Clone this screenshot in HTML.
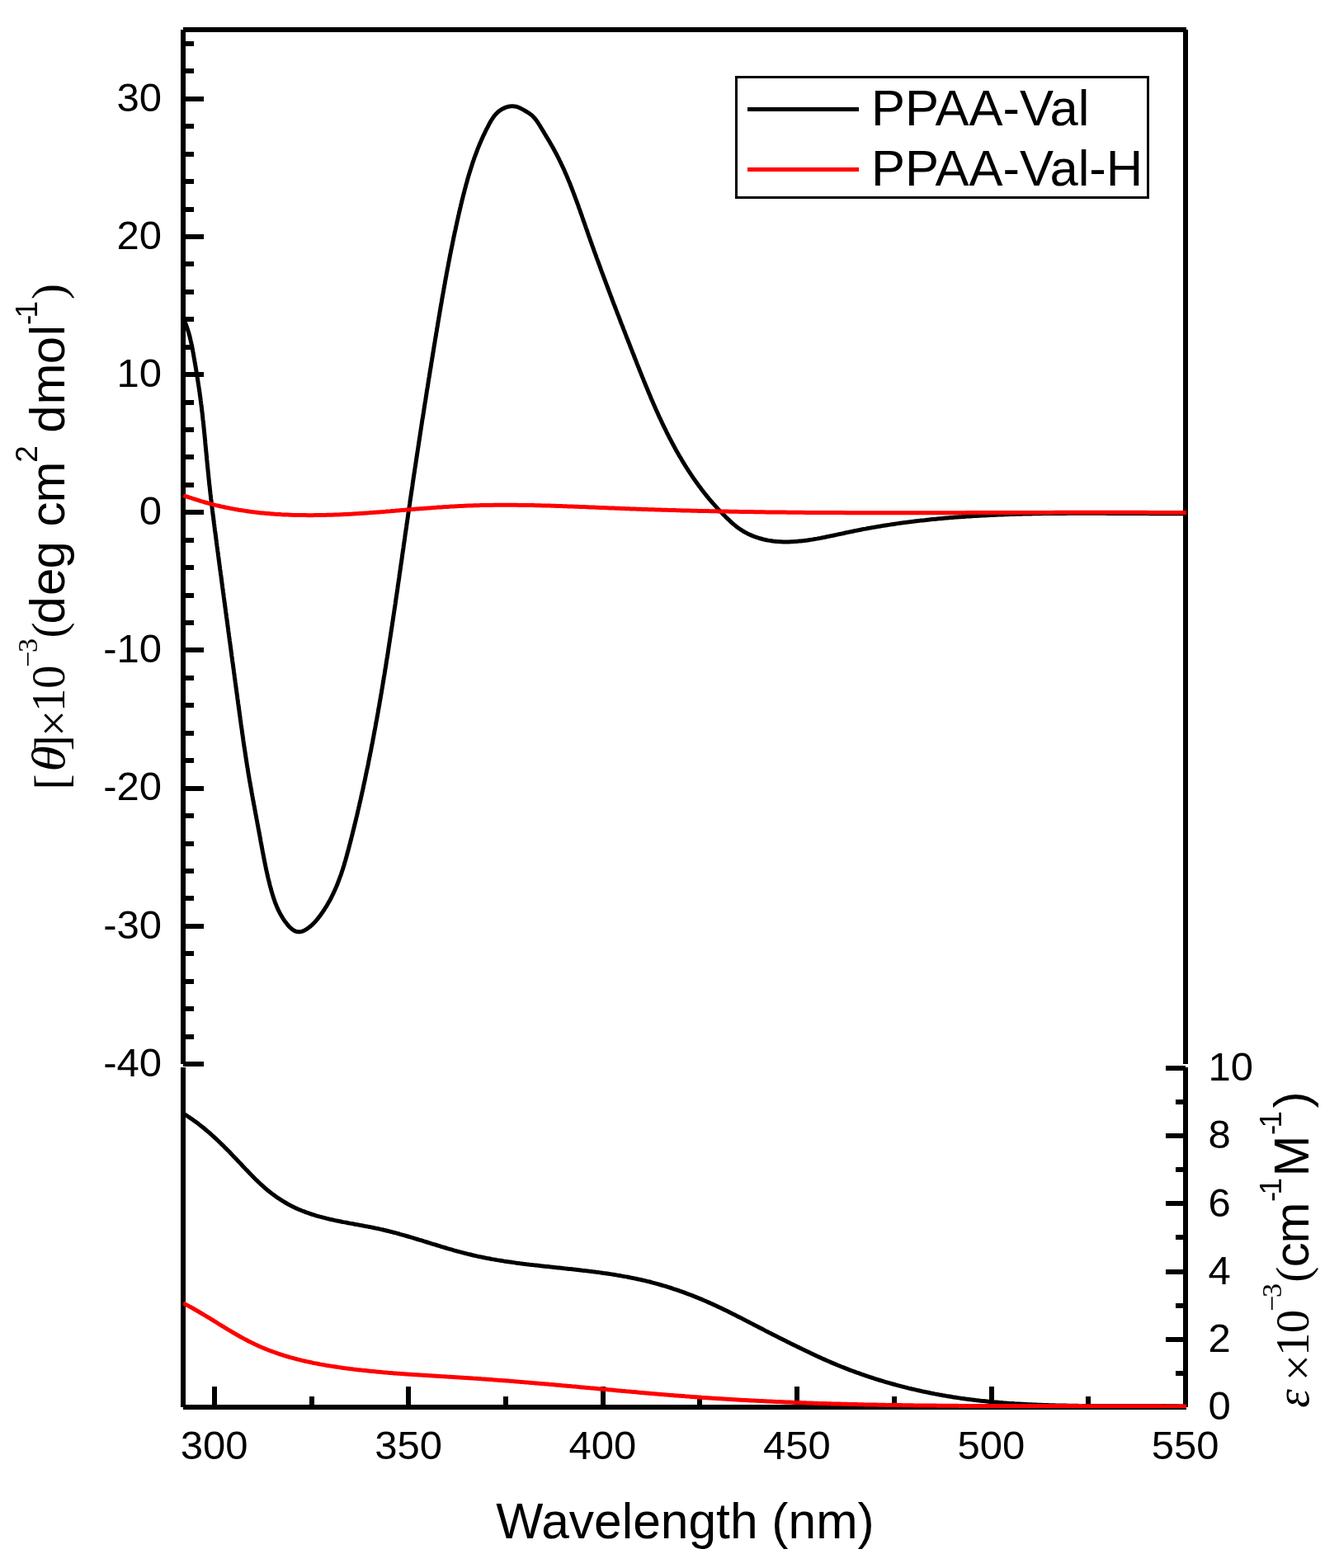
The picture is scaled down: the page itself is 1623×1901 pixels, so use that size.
<!DOCTYPE html>
<html><head><meta charset="utf-8"><title>CD and absorption spectra</title>
<style>html,body{margin:0;padding:0;background:#fff;}svg{display:block;}.s{font-family:"Liberation Sans",Arial,sans-serif;}.r{font-family:"Liberation Serif","Times New Roman",serif;}</style></head><body>
<svg width="1623" height="1901" viewBox="0 0 1623 1901">
<rect x="0" y="0" width="1623" height="1901" fill="#fff"/>
<g fill="#000" shape-rendering="crispEdges"><rect x="222" y="33" width="1216" height="6"/><rect x="219" y="36" width="6" height="1254"/><rect x="1434" y="36" width="6" height="1254"/><rect x="219" y="1294" width="6" height="412"/><rect x="1434" y="1294" width="6" height="412"/><rect x="222" y="1703" width="1216" height="6"/><rect x="222" y="50" width="13" height="6"/><rect x="222" y="83" width="13" height="6"/><rect x="222" y="117" width="25" height="6"/><rect x="222" y="150" width="13" height="6"/><rect x="222" y="184" width="13" height="6"/><rect x="222" y="217" width="13" height="6"/><rect x="222" y="251" width="13" height="6"/><rect x="222" y="284" width="25" height="6"/><rect x="222" y="317" width="13" height="6"/><rect x="222" y="351" width="13" height="6"/><rect x="222" y="384" width="13" height="6"/><rect x="222" y="418" width="13" height="6"/><rect x="222" y="451" width="25" height="6"/><rect x="222" y="485" width="13" height="6"/><rect x="222" y="518" width="13" height="6"/><rect x="222" y="551" width="13" height="6"/><rect x="222" y="585" width="13" height="6"/><rect x="222" y="618" width="25" height="6"/><rect x="222" y="652" width="13" height="6"/><rect x="222" y="685" width="13" height="6"/><rect x="222" y="719" width="13" height="6"/><rect x="222" y="752" width="13" height="6"/><rect x="222" y="785" width="25" height="6"/><rect x="222" y="819" width="13" height="6"/><rect x="222" y="852" width="13" height="6"/><rect x="222" y="886" width="13" height="6"/><rect x="222" y="919" width="13" height="6"/><rect x="222" y="953" width="25" height="6"/><rect x="222" y="986" width="13" height="6"/><rect x="222" y="1020" width="13" height="6"/><rect x="222" y="1053" width="13" height="6"/><rect x="222" y="1086" width="13" height="6"/><rect x="222" y="1120" width="25" height="6"/><rect x="222" y="1153" width="13" height="6"/><rect x="222" y="1187" width="13" height="6"/><rect x="222" y="1220" width="13" height="6"/><rect x="222" y="1254" width="13" height="6"/><rect x="222" y="1287" width="25" height="6"/><rect x="1413" y="1703" width="24" height="6"/><rect x="1425" y="1662" width="12" height="6"/><rect x="1413" y="1621" width="24" height="6"/><rect x="1425" y="1580" width="12" height="6"/><rect x="1413" y="1539" width="24" height="6"/><rect x="1425" y="1497" width="12" height="6"/><rect x="1413" y="1456" width="24" height="6"/><rect x="1425" y="1415" width="12" height="6"/><rect x="1413" y="1374" width="24" height="6"/><rect x="1425" y="1333" width="12" height="6"/><rect x="1413" y="1292" width="24" height="6"/><rect x="257" y="1681" width="6" height="25"/><rect x="375" y="1693" width="6" height="13"/><rect x="492" y="1681" width="6" height="25"/><rect x="610" y="1693" width="6" height="13"/><rect x="728" y="1681" width="6" height="25"/><rect x="845" y="1693" width="6" height="13"/><rect x="963" y="1681" width="6" height="25"/><rect x="1081" y="1693" width="6" height="13"/><rect x="1199" y="1681" width="6" height="25"/><rect x="1316" y="1693" width="6" height="13"/><rect x="1434" y="1681" width="6" height="25"/></g>
<defs><clipPath id="ct"><rect x="222" y="36" width="1216.5" height="1254"/></clipPath><clipPath id="cb"><rect x="222" y="1294" width="1216.5" height="413"/></clipPath></defs>
<g fill="none" stroke-linejoin="round" stroke-linecap="butt" stroke-width="5">
<g clip-path="url(#cb)">
<path d="M221.9,1349.8 L223.6,1350.8 L225.3,1351.9 L227.0,1353.0 L228.7,1354.2 L230.4,1355.3 L232.1,1356.4 L233.7,1357.6 L235.3,1358.8 L237.0,1359.9 L238.6,1361.1 L240.2,1362.3 L241.8,1363.6 L243.3,1364.8 L244.9,1366.0 L246.5,1367.3 L248.0,1368.5 L249.5,1369.8 L251.1,1371.1 L252.6,1372.4 L254.1,1373.7 L255.6,1375.0 L257.0,1376.3 L258.5,1377.6 L260.0,1379.0 L261.5,1380.3 L262.9,1381.7 L264.3,1383.0 L265.8,1384.4 L267.2,1385.8 L268.6,1387.2 L270.1,1388.6 L271.5,1390.0 L272.9,1391.4 L274.3,1392.8 L275.7,1394.2 L277.1,1395.6 L278.5,1397.0 L279.9,1398.5 L281.2,1399.9 L282.6,1401.4 L284.0,1402.8 L285.4,1404.2 L286.8,1405.7 L288.1,1407.2 L289.5,1408.6 L290.9,1410.1 L292.3,1411.5 L293.6,1413.0 L295.0,1414.5 L296.4,1415.9 L297.8,1417.4 L299.2,1418.8 L300.6,1420.3 L302.0,1421.8 L303.4,1423.2 L304.8,1424.6 L306.2,1426.1 L307.6,1427.5 L309.0,1428.9 L310.4,1430.3 L311.9,1431.7 L313.3,1433.1 L314.8,1434.5 L316.3,1435.9 L317.7,1437.2 L319.2,1438.5 L320.7,1439.9 L322.3,1441.2 L323.8,1442.5 L325.3,1443.7 L326.9,1445.0 L328.5,1446.2 L330.0,1447.4 L331.6,1448.6 L333.3,1449.8 L334.9,1451.0 L336.5,1452.1 L338.2,1453.2 L339.9,1454.3 L341.6,1455.4 L343.2,1456.4 L345.0,1457.5 L346.7,1458.5 L348.4,1459.5 L350.2,1460.4 L351.9,1461.4 L353.7,1462.3 L355.5,1463.2 L357.2,1464.0 L359.0,1464.9 L360.8,1465.7 L362.7,1466.5 L364.5,1467.2 L366.3,1468.0 L368.2,1468.7 L370.0,1469.4 L371.9,1470.1 L373.7,1470.7 L375.6,1471.4 L377.5,1472.0 L379.3,1472.6 L381.2,1473.2 L383.1,1473.8 L385.0,1474.3 L386.9,1474.9 L388.9,1475.4 L390.8,1475.9 L392.7,1476.4 L394.6,1476.9 L396.6,1477.4 L398.5,1477.8 L400.4,1478.3 L402.4,1478.7 L404.3,1479.1 L406.3,1479.6 L408.3,1480.0 L410.2,1480.4 L412.2,1480.8 L414.2,1481.2 L416.1,1481.6 L418.1,1481.9 L420.1,1482.3 L422.0,1482.7 L424.0,1483.1 L426.0,1483.4 L428.0,1483.8 L430.0,1484.2 L431.9,1484.5 L433.9,1484.9 L435.9,1485.3 L437.9,1485.6 L439.9,1486.0 L441.8,1486.4 L443.8,1486.7 L445.8,1487.1 L447.8,1487.5 L449.8,1487.9 L451.7,1488.3 L453.7,1488.7 L455.7,1489.1 L457.6,1489.5 L459.6,1489.9 L461.6,1490.4 L463.5,1490.8 L465.5,1491.3 L467.4,1491.7 L469.4,1492.2 L471.3,1492.7 L473.3,1493.2 L475.2,1493.7 L477.2,1494.2 L479.1,1494.7 L481.0,1495.2 L483.0,1495.7 L484.9,1496.3 L486.8,1496.8 L488.8,1497.4 L490.7,1497.9 L492.6,1498.5 L494.5,1499.0 L496.5,1499.6 L498.4,1500.2 L500.3,1500.7 L502.2,1501.3 L504.1,1501.9 L506.0,1502.5 L508.0,1503.1 L509.9,1503.6 L511.8,1504.2 L513.7,1504.8 L515.6,1505.4 L517.5,1506.0 L519.4,1506.6 L521.3,1507.2 L523.2,1507.8 L525.1,1508.4 L527.1,1508.9 L529.0,1509.5 L530.9,1510.1 L532.8,1510.7 L534.7,1511.3 L536.6,1511.8 L538.5,1512.4 L540.4,1513.0 L542.3,1513.6 L544.2,1514.1 L546.2,1514.7 L548.1,1515.2 L550.0,1515.8 L551.9,1516.3 L553.8,1516.8 L555.7,1517.4 L557.7,1517.9 L559.6,1518.4 L561.5,1518.9 L563.4,1519.4 L565.4,1519.9 L567.3,1520.4 L569.2,1520.8 L571.2,1521.3 L573.1,1521.8 L575.0,1522.2 L577.0,1522.6 L578.9,1523.1 L580.9,1523.5 L582.8,1523.9 L584.8,1524.3 L586.7,1524.7 L588.7,1525.1 L590.6,1525.5 L592.6,1525.8 L594.6,1526.2 L596.5,1526.6 L598.5,1526.9 L600.4,1527.2 L602.4,1527.6 L604.4,1527.9 L606.3,1528.2 L608.3,1528.5 L610.3,1528.9 L612.3,1529.2 L614.2,1529.5 L616.2,1529.8 L618.2,1530.0 L620.2,1530.3 L622.1,1530.6 L624.1,1530.9 L626.1,1531.2 L628.1,1531.4 L630.1,1531.7 L632.0,1531.9 L634.0,1532.2 L636.0,1532.4 L638.0,1532.7 L640.0,1532.9 L642.0,1533.2 L644.0,1533.4 L646.0,1533.6 L647.9,1533.9 L649.9,1534.1 L651.9,1534.3 L653.9,1534.5 L655.9,1534.8 L657.9,1535.0 L659.9,1535.2 L661.9,1535.4 L663.9,1535.6 L665.9,1535.8 L667.9,1536.1 L669.9,1536.3 L671.9,1536.5 L673.9,1536.7 L675.9,1536.9 L677.9,1537.1 L679.9,1537.3 L681.8,1537.5 L683.8,1537.8 L685.8,1538.0 L687.8,1538.2 L689.8,1538.4 L691.8,1538.6 L693.8,1538.8 L695.8,1539.1 L697.8,1539.3 L699.8,1539.5 L701.8,1539.7 L703.8,1539.9 L705.8,1540.2 L707.8,1540.4 L709.7,1540.6 L711.7,1540.9 L713.7,1541.1 L715.7,1541.4 L717.7,1541.6 L719.7,1541.9 L721.7,1542.1 L723.7,1542.4 L725.6,1542.6 L727.6,1542.9 L729.6,1543.2 L731.6,1543.5 L733.6,1543.7 L735.5,1544.0 L737.5,1544.3 L739.5,1544.6 L741.5,1544.9 L743.4,1545.2 L745.4,1545.5 L747.4,1545.9 L749.4,1546.2 L751.3,1546.5 L753.3,1546.9 L755.2,1547.2 L757.2,1547.6 L759.2,1547.9 L761.1,1548.3 L763.1,1548.7 L765.0,1549.1 L767.0,1549.5 L768.9,1549.9 L770.9,1550.3 L772.8,1550.7 L774.8,1551.1 L776.7,1551.5 L778.7,1552.0 L780.6,1552.4 L782.6,1552.9 L784.5,1553.4 L786.4,1553.8 L788.4,1554.3 L790.3,1554.8 L792.2,1555.3 L794.1,1555.8 L796.1,1556.4 L798.0,1556.9 L799.9,1557.5 L801.8,1558.0 L803.7,1558.6 L805.6,1559.1 L807.5,1559.7 L809.4,1560.3 L811.3,1560.9 L813.2,1561.5 L815.1,1562.1 L817.0,1562.8 L818.9,1563.4 L820.8,1564.0 L822.7,1564.7 L824.6,1565.4 L826.5,1566.0 L828.3,1566.7 L830.2,1567.4 L832.1,1568.1 L834.0,1568.8 L835.8,1569.5 L837.7,1570.2 L839.6,1570.9 L841.4,1571.7 L843.3,1572.4 L845.1,1573.2 L847.0,1573.9 L848.8,1574.7 L850.7,1575.4 L852.5,1576.2 L854.3,1577.0 L856.2,1577.8 L858.0,1578.6 L859.8,1579.4 L861.7,1580.2 L863.5,1581.1 L865.3,1581.9 L867.1,1582.7 L868.9,1583.6 L870.7,1584.4 L872.6,1585.3 L874.4,1586.1 L876.2,1587.0 L878.0,1587.9 L879.8,1588.7 L881.6,1589.6 L883.4,1590.5 L885.2,1591.4 L886.9,1592.3 L888.7,1593.2 L890.5,1594.1 L892.3,1595.0 L894.1,1595.9 L895.9,1596.8 L897.7,1597.7 L899.5,1598.6 L901.2,1599.5 L903.0,1600.4 L904.8,1601.4 L906.6,1602.3 L908.4,1603.2 L910.1,1604.1 L911.9,1605.1 L913.7,1606.0 L915.5,1606.9 L917.2,1607.8 L919.0,1608.7 L920.8,1609.7 L922.6,1610.6 L924.4,1611.5 L926.1,1612.4 L927.9,1613.4 L929.7,1614.3 L931.5,1615.2 L933.2,1616.1 L935.0,1617.0 L936.8,1617.9 L938.6,1618.8 L940.4,1619.7 L942.2,1620.6 L943.9,1621.5 L945.7,1622.4 L947.5,1623.3 L949.3,1624.2 L951.1,1625.1 L952.9,1626.0 L954.7,1626.9 L956.5,1627.8 L958.2,1628.7 L960.0,1629.6 L961.8,1630.4 L963.6,1631.3 L965.4,1632.2 L967.2,1633.1 L969.0,1633.9 L970.8,1634.8 L972.6,1635.7 L974.4,1636.5 L976.2,1637.4 L978.0,1638.3 L979.8,1639.1 L981.6,1640.0 L983.4,1640.9 L985.2,1641.7 L987.0,1642.6 L988.8,1643.4 L990.6,1644.3 L992.4,1645.1 L994.3,1645.9 L996.1,1646.8 L997.9,1647.6 L999.7,1648.4 L1001.5,1649.2 L1003.4,1650.0 L1005.2,1650.8 L1007.0,1651.6 L1008.9,1652.4 L1010.7,1653.2 L1012.5,1653.9 L1014.4,1654.7 L1016.2,1655.5 L1018.1,1656.2 L1019.9,1657.0 L1021.8,1657.7 L1023.7,1658.4 L1025.5,1659.2 L1027.4,1659.9 L1029.2,1660.6 L1031.1,1661.3 L1033.0,1662.0 L1034.8,1662.7 L1036.7,1663.4 L1038.6,1664.1 L1040.5,1664.7 L1042.4,1665.4 L1044.2,1666.1 L1046.1,1666.7 L1048.0,1667.4 L1049.9,1668.0 L1051.8,1668.7 L1053.7,1669.3 L1055.6,1669.9 L1057.5,1670.5 L1059.4,1671.2 L1061.3,1671.8 L1063.2,1672.4 L1065.1,1673.0 L1067.0,1673.5 L1069.0,1674.1 L1070.9,1674.7 L1072.8,1675.3 L1074.7,1675.8 L1076.6,1676.4 L1078.5,1676.9 L1080.5,1677.5 L1082.4,1678.0 L1084.3,1678.5 L1086.3,1679.1 L1088.2,1679.6 L1090.1,1680.1 L1092.1,1680.6 L1094.0,1681.1 L1095.9,1681.6 L1097.9,1682.1 L1099.8,1682.6 L1101.7,1683.1 L1103.7,1683.5 L1105.6,1684.0 L1107.6,1684.4 L1109.5,1684.9 L1111.5,1685.3 L1113.4,1685.8 L1115.4,1686.2 L1117.3,1686.7 L1119.3,1687.1 L1121.3,1687.5 L1123.2,1687.9 L1125.2,1688.3 L1127.1,1688.7 L1129.1,1689.1 L1131.1,1689.5 L1133.0,1689.9 L1135.0,1690.2 L1136.9,1690.6 L1138.9,1691.0 L1140.9,1691.3 L1142.8,1691.7 L1144.8,1692.0 L1146.8,1692.4 L1148.8,1692.7 L1150.7,1693.0 L1152.7,1693.3 L1154.7,1693.7 L1156.6,1694.0 L1158.6,1694.3 L1160.6,1694.6 L1162.6,1694.9 L1164.6,1695.2 L1166.5,1695.4 L1168.5,1695.7 L1170.5,1696.0 L1172.5,1696.2 L1174.4,1696.5 L1176.4,1696.8 L1178.4,1697.0 L1180.4,1697.2 L1182.4,1697.5 L1184.4,1697.7 L1186.3,1697.9 L1188.3,1698.2 L1190.3,1698.4 L1192.3,1698.6 L1194.3,1698.8 L1196.3,1699.0 L1198.3,1699.2 L1200.2,1699.4 L1202.2,1699.6 L1204.2,1699.8 L1206.2,1699.9 L1208.2,1700.1 L1210.2,1700.3 L1212.2,1700.5 L1214.2,1700.6 L1216.2,1700.8 L1218.2,1700.9 L1220.1,1701.1 L1222.1,1701.2 L1224.1,1701.4 L1226.1,1701.5 L1228.1,1701.6 L1230.1,1701.8 L1232.1,1701.9 L1234.1,1702.0 L1236.1,1702.1 L1238.1,1702.2 L1240.1,1702.3 L1242.1,1702.5 L1244.1,1702.6 L1246.1,1702.7 L1248.1,1702.8 L1250.1,1702.8 L1252.1,1702.9 L1254.1,1703.0 L1256.1,1703.1 L1258.1,1703.2 L1260.1,1703.3 L1262.1,1703.3 L1264.1,1703.4 L1266.1,1703.5 L1268.1,1703.5 L1270.1,1703.6 L1272.1,1703.7 L1274.1,1703.7 L1276.1,1703.8 L1278.1,1703.8 L1280.1,1703.9 L1282.1,1703.9 L1284.1,1704.0 L1286.1,1704.0 L1288.1,1704.1 L1290.1,1704.1 L1292.1,1704.1 L1294.1,1704.2 L1296.1,1704.2 L1298.1,1704.2 L1300.1,1704.3 L1302.1,1704.3 L1304.1,1704.3 L1306.1,1704.3 L1308.1,1704.4 L1310.1,1704.4 L1312.1,1704.4 L1314.1,1704.4 L1316.1,1704.4 L1318.1,1704.4 L1320.1,1704.5 L1322.1,1704.5 L1324.1,1704.5 L1326.1,1704.5 L1328.1,1704.5 L1330.1,1704.5 L1332.1,1704.5 L1334.1,1704.5 L1336.1,1704.5 L1338.1,1704.5 L1340.1,1704.5 L1342.1,1704.5 L1344.1,1704.5 L1346.1,1704.5 L1348.1,1704.5 L1350.1,1704.5 L1352.1,1704.5 L1354.1,1704.5 L1356.1,1704.5 L1358.1,1704.5 L1360.2,1704.5 L1362.2,1704.5 L1364.2,1704.5 L1366.2,1704.5 L1368.2,1704.5 L1370.2,1704.5 L1372.2,1704.5 L1374.2,1704.5 L1376.2,1704.5 L1378.2,1704.5 L1380.2,1704.5 L1382.2,1704.5 L1384.1,1704.5 L1386.1,1704.5 L1388.1,1704.5 L1390.1,1704.6 L1392.1,1704.6 L1394.1,1704.6 L1396.1,1704.6 L1398.1,1704.6 L1400.1,1704.6 L1402.1,1704.6 L1404.1,1704.6 L1406.1,1704.6 L1408.1,1704.6 L1410.1,1704.6 L1412.1,1704.7 L1414.1,1704.7 L1416.1,1704.7 L1418.1,1704.7 L1420.1,1704.7 L1422.1,1704.8 L1424.1,1704.8 L1426.0,1704.8 L1428.0,1704.8 L1430.0,1704.9 L1432.0,1704.9 L1434.0,1704.9 L1436.0,1705.0 L1438.0,1705.0" stroke="#000"/>
<path d="M222.1,1579.9 L223.8,1580.8 L225.6,1581.7 L227.3,1582.7 L229.1,1583.6 L230.8,1584.5 L232.6,1585.5 L234.3,1586.5 L236.0,1587.5 L237.8,1588.5 L239.5,1589.5 L241.2,1590.5 L242.9,1591.5 L244.6,1592.5 L246.4,1593.5 L248.1,1594.6 L249.8,1595.6 L251.5,1596.6 L253.2,1597.7 L254.9,1598.7 L256.6,1599.8 L258.4,1600.8 L260.1,1601.9 L261.8,1602.9 L263.5,1604.0 L265.2,1605.1 L266.9,1606.1 L268.6,1607.2 L270.4,1608.2 L272.1,1609.3 L273.8,1610.3 L275.5,1611.4 L277.2,1612.4 L279.0,1613.4 L280.7,1614.5 L282.4,1615.5 L284.2,1616.5 L285.9,1617.5 L287.6,1618.5 L289.4,1619.5 L291.1,1620.5 L292.9,1621.5 L294.6,1622.4 L296.4,1623.4 L298.2,1624.3 L299.9,1625.2 L301.7,1626.2 L303.5,1627.1 L305.3,1628.0 L307.1,1628.8 L308.9,1629.7 L310.7,1630.5 L312.5,1631.4 L314.3,1632.2 L316.1,1633.0 L317.9,1633.8 L319.8,1634.5 L321.6,1635.3 L323.4,1636.0 L325.3,1636.8 L327.1,1637.5 L329.0,1638.2 L330.9,1638.9 L332.7,1639.5 L334.6,1640.2 L336.5,1640.8 L338.3,1641.5 L340.2,1642.1 L342.1,1642.7 L344.0,1643.3 L345.9,1643.9 L347.8,1644.5 L349.7,1645.0 L351.6,1645.6 L353.6,1646.1 L355.5,1646.6 L357.4,1647.1 L359.3,1647.7 L361.2,1648.1 L363.2,1648.6 L365.1,1649.1 L367.1,1649.6 L369.0,1650.0 L370.9,1650.5 L372.9,1650.9 L374.8,1651.3 L376.8,1651.7 L378.7,1652.2 L380.7,1652.6 L382.7,1652.9 L384.6,1653.3 L386.6,1653.7 L388.6,1654.1 L390.5,1654.4 L392.5,1654.8 L394.5,1655.1 L396.4,1655.5 L398.4,1655.8 L400.4,1656.1 L402.4,1656.4 L404.4,1656.7 L406.3,1657.0 L408.3,1657.3 L410.3,1657.6 L412.3,1657.9 L414.3,1658.2 L416.3,1658.5 L418.2,1658.7 L420.2,1659.0 L422.2,1659.2 L424.2,1659.5 L426.2,1659.7 L428.2,1660.0 L430.2,1660.2 L432.2,1660.5 L434.1,1660.7 L436.1,1660.9 L438.1,1661.1 L440.1,1661.4 L442.1,1661.6 L444.1,1661.8 L446.1,1662.0 L448.1,1662.2 L450.1,1662.4 L452.1,1662.6 L454.0,1662.8 L456.0,1663.0 L458.0,1663.2 L460.0,1663.3 L462.0,1663.5 L464.0,1663.7 L466.0,1663.9 L468.0,1664.0 L470.0,1664.2 L472.0,1664.4 L474.0,1664.5 L476.0,1664.7 L478.0,1664.9 L480.0,1665.0 L482.0,1665.2 L484.0,1665.3 L485.9,1665.5 L487.9,1665.6 L489.9,1665.7 L491.9,1665.9 L493.9,1666.0 L495.9,1666.2 L497.9,1666.3 L499.9,1666.4 L501.9,1666.6 L503.9,1666.7 L505.9,1666.8 L507.9,1667.0 L509.9,1667.1 L511.9,1667.2 L513.9,1667.3 L515.9,1667.5 L517.9,1667.6 L519.9,1667.7 L521.9,1667.8 L523.9,1668.0 L525.9,1668.1 L527.9,1668.2 L529.8,1668.3 L531.8,1668.4 L533.8,1668.6 L535.8,1668.7 L537.8,1668.8 L539.8,1668.9 L541.8,1669.1 L543.8,1669.2 L545.8,1669.3 L547.8,1669.4 L549.8,1669.5 L551.8,1669.7 L553.8,1669.8 L555.8,1669.9 L557.8,1670.0 L559.8,1670.2 L561.8,1670.3 L563.8,1670.4 L565.8,1670.5 L567.8,1670.7 L569.7,1670.8 L571.7,1670.9 L573.7,1671.1 L575.7,1671.2 L577.7,1671.3 L579.7,1671.5 L581.7,1671.6 L583.7,1671.8 L585.7,1671.9 L587.7,1672.0 L589.7,1672.2 L591.7,1672.3 L593.7,1672.5 L595.7,1672.6 L597.6,1672.8 L599.6,1672.9 L601.6,1673.1 L603.6,1673.2 L605.6,1673.4 L607.6,1673.5 L609.6,1673.7 L611.6,1673.8 L613.6,1674.0 L615.6,1674.1 L617.6,1674.3 L619.6,1674.4 L621.5,1674.6 L623.5,1674.7 L625.5,1674.9 L627.5,1675.1 L629.5,1675.2 L631.5,1675.4 L633.5,1675.6 L635.5,1675.7 L637.5,1675.9 L639.5,1676.1 L641.5,1676.2 L643.4,1676.4 L645.4,1676.6 L647.4,1676.7 L649.4,1676.9 L651.4,1677.1 L653.4,1677.2 L655.4,1677.4 L657.4,1677.6 L659.4,1677.7 L661.4,1677.9 L663.3,1678.1 L665.3,1678.3 L667.3,1678.4 L669.3,1678.6 L671.3,1678.8 L673.3,1679.0 L675.3,1679.2 L677.3,1679.3 L679.3,1679.5 L681.3,1679.7 L683.3,1679.9 L685.2,1680.0 L687.2,1680.2 L689.2,1680.4 L691.2,1680.6 L693.2,1680.8 L695.2,1680.9 L697.2,1681.1 L699.2,1681.3 L701.2,1681.5 L703.2,1681.7 L705.2,1681.9 L707.1,1682.0 L709.1,1682.2 L711.1,1682.4 L713.1,1682.6 L715.1,1682.8 L717.1,1682.9 L719.1,1683.1 L721.1,1683.3 L723.1,1683.5 L725.1,1683.7 L727.1,1683.9 L729.0,1684.0 L731.0,1684.2 L733.0,1684.4 L735.0,1684.6 L737.0,1684.8 L739.0,1685.0 L741.0,1685.1 L743.0,1685.3 L745.0,1685.5 L747.0,1685.7 L749.0,1685.9 L750.9,1686.0 L752.9,1686.2 L754.9,1686.4 L756.9,1686.6 L758.9,1686.8 L760.9,1686.9 L762.9,1687.1 L764.9,1687.3 L766.9,1687.5 L768.9,1687.6 L770.9,1687.8 L772.9,1688.0 L774.8,1688.2 L776.8,1688.4 L778.8,1688.5 L780.8,1688.7 L782.8,1688.9 L784.8,1689.0 L786.8,1689.2 L788.8,1689.4 L790.8,1689.6 L792.8,1689.7 L794.8,1689.9 L796.8,1690.1 L798.8,1690.2 L800.7,1690.4 L802.7,1690.6 L804.7,1690.7 L806.7,1690.9 L808.7,1691.1 L810.7,1691.2 L812.7,1691.4 L814.7,1691.5 L816.7,1691.7 L818.7,1691.9 L820.7,1692.0 L822.7,1692.2 L824.7,1692.3 L826.7,1692.5 L828.6,1692.6 L830.6,1692.8 L832.6,1692.9 L834.6,1693.1 L836.6,1693.2 L838.6,1693.4 L840.6,1693.5 L842.6,1693.7 L844.6,1693.8 L846.6,1694.0 L848.6,1694.1 L850.6,1694.3 L852.6,1694.4 L854.6,1694.5 L856.6,1694.7 L858.5,1694.8 L860.5,1694.9 L862.5,1695.1 L864.5,1695.2 L866.5,1695.3 L868.5,1695.5 L870.5,1695.6 L872.5,1695.7 L874.5,1695.8 L876.5,1696.0 L878.5,1696.1 L880.5,1696.2 L882.5,1696.3 L884.5,1696.5 L886.5,1696.6 L888.5,1696.7 L890.5,1696.8 L892.5,1696.9 L894.5,1697.0 L896.4,1697.2 L898.4,1697.3 L900.4,1697.4 L902.4,1697.5 L904.4,1697.6 L906.4,1697.7 L908.4,1697.8 L910.4,1697.9 L912.4,1698.0 L914.4,1698.1 L916.4,1698.2 L918.4,1698.3 L920.4,1698.4 L922.4,1698.5 L924.4,1698.6 L926.4,1698.7 L928.4,1698.8 L930.4,1698.9 L932.4,1699.0 L934.4,1699.1 L936.4,1699.2 L938.4,1699.3 L940.4,1699.4 L942.4,1699.5 L944.3,1699.5 L946.3,1699.6 L948.3,1699.7 L950.3,1699.8 L952.3,1699.9 L954.3,1700.0 L956.3,1700.0 L958.3,1700.1 L960.3,1700.2 L962.3,1700.3 L964.3,1700.4 L966.3,1700.4 L968.3,1700.5 L970.3,1700.6 L972.3,1700.7 L974.3,1700.7 L976.3,1700.8 L978.3,1700.9 L980.3,1701.0 L982.3,1701.0 L984.3,1701.1 L986.3,1701.2 L988.3,1701.2 L990.3,1701.3 L992.3,1701.4 L994.3,1701.4 L996.3,1701.5 L998.3,1701.5 L1000.3,1701.6 L1002.3,1701.7 L1004.3,1701.7 L1006.3,1701.8 L1008.3,1701.9 L1010.3,1701.9 L1012.3,1702.0 L1014.2,1702.0 L1016.2,1702.1 L1018.2,1702.1 L1020.2,1702.2 L1022.2,1702.2 L1024.2,1702.3 L1026.2,1702.3 L1028.2,1702.4 L1030.2,1702.4 L1032.2,1702.5 L1034.2,1702.5 L1036.2,1702.6 L1038.2,1702.6 L1040.2,1702.7 L1042.2,1702.7 L1044.2,1702.8 L1046.2,1702.8 L1048.2,1702.9 L1050.2,1702.9 L1052.2,1702.9 L1054.2,1703.0 L1056.2,1703.0 L1058.2,1703.1 L1060.2,1703.1 L1062.2,1703.1 L1064.2,1703.2 L1066.2,1703.2 L1068.2,1703.3 L1070.2,1703.3 L1072.2,1703.3 L1074.2,1703.4 L1076.2,1703.4 L1078.2,1703.4 L1080.2,1703.5 L1082.2,1703.5 L1084.2,1703.5 L1086.2,1703.6 L1088.2,1703.6 L1090.2,1703.6 L1092.2,1703.6 L1094.2,1703.7 L1096.2,1703.7 L1098.2,1703.7 L1100.2,1703.8 L1102.2,1703.8 L1104.2,1703.8 L1106.2,1703.8 L1108.2,1703.9 L1110.2,1703.9 L1112.2,1703.9 L1114.2,1703.9 L1116.2,1704.0 L1118.2,1704.0 L1120.2,1704.0 L1122.2,1704.0 L1124.2,1704.0 L1126.2,1704.1 L1128.2,1704.1 L1130.2,1704.1 L1132.2,1704.1 L1134.2,1704.1 L1136.2,1704.2 L1138.2,1704.2 L1140.2,1704.2 L1142.2,1704.2 L1144.2,1704.2 L1146.2,1704.2 L1148.2,1704.3 L1150.2,1704.3 L1152.2,1704.3 L1154.2,1704.3 L1156.2,1704.3 L1158.2,1704.3 L1160.2,1704.3 L1162.2,1704.4 L1164.2,1704.4 L1166.2,1704.4 L1168.2,1704.4 L1170.2,1704.4 L1172.2,1704.4 L1174.2,1704.4 L1176.2,1704.4 L1178.2,1704.4 L1180.2,1704.5 L1182.2,1704.5 L1184.2,1704.5 L1186.2,1704.5 L1188.2,1704.5 L1190.2,1704.5 L1192.2,1704.5 L1194.2,1704.5 L1196.2,1704.5 L1198.2,1704.5 L1200.2,1704.5 L1202.2,1704.5 L1204.2,1704.5 L1206.1,1704.6 L1208.1,1704.6 L1210.1,1704.6 L1212.1,1704.6 L1214.1,1704.6 L1216.1,1704.6 L1218.1,1704.6 L1220.1,1704.6 L1222.1,1704.6 L1224.1,1704.6 L1226.1,1704.6 L1228.1,1704.6 L1230.1,1704.6 L1232.1,1704.6 L1234.1,1704.6 L1236.1,1704.6 L1238.1,1704.6 L1240.1,1704.6 L1242.1,1704.6 L1244.1,1704.6 L1246.1,1704.6 L1248.1,1704.6 L1250.1,1704.6 L1252.1,1704.6 L1254.1,1704.6 L1256.1,1704.6 L1258.1,1704.6 L1260.1,1704.6 L1262.1,1704.6 L1264.1,1704.6 L1266.1,1704.6 L1268.1,1704.6 L1270.1,1704.6 L1272.1,1704.6 L1274.1,1704.6 L1276.1,1704.6 L1278.1,1704.6 L1280.1,1704.6 L1282.1,1704.6 L1284.1,1704.6 L1286.1,1704.6 L1288.1,1704.6 L1290.1,1704.6 L1292.1,1704.6 L1294.1,1704.6 L1296.1,1704.6 L1298.1,1704.6 L1300.1,1704.6 L1302.1,1704.6 L1304.1,1704.6 L1306.1,1704.6 L1308.1,1704.6 L1310.1,1704.6 L1312.1,1704.6 L1314.1,1704.7 L1316.1,1704.7 L1318.1,1704.7 L1320.1,1704.7 L1322.1,1704.7 L1324.1,1704.7 L1326.1,1704.7 L1328.1,1704.7 L1330.1,1704.7 L1332.1,1704.7 L1334.1,1704.7 L1336.1,1704.7 L1338.1,1704.7 L1340.1,1704.7 L1342.1,1704.7 L1344.1,1704.7 L1346.1,1704.7 L1348.1,1704.7 L1350.1,1704.7 L1352.1,1704.7 L1354.1,1704.7 L1356.1,1704.7 L1358.1,1704.7 L1360.1,1704.7 L1362.1,1704.7 L1364.1,1704.7 L1366.1,1704.7 L1368.1,1704.7 L1370.1,1704.7 L1372.1,1704.7 L1374.1,1704.7 L1376.1,1704.7 L1378.1,1704.7 L1380.1,1704.7 L1382.1,1704.7 L1384.1,1704.8 L1386.1,1704.8 L1388.1,1704.8 L1390.1,1704.8 L1392.1,1704.8 L1394.0,1704.8 L1396.0,1704.8 L1398.0,1704.8 L1400.0,1704.8 L1402.0,1704.8 L1404.0,1704.8 L1406.0,1704.8 L1408.0,1704.8 L1410.0,1704.9 L1412.0,1704.9 L1414.0,1704.9 L1416.0,1704.9 L1418.0,1704.9 L1420.0,1704.9 L1422.0,1704.9 L1424.0,1704.9 L1426.0,1705.0 L1428.0,1705.0 L1430.0,1705.0 L1432.0,1705.0 L1434.0,1705.0 L1436.0,1705.0 L1438.0,1705.0" stroke="#f00"/>
</g><g clip-path="url(#ct)">
<path d="M222.2,385.9 L223.1,387.7 L223.8,389.5 L224.6,391.4 L225.3,393.2 L226.0,395.1 L226.7,397.0 L227.3,398.9 L227.9,400.8 L228.5,402.7 L229.0,404.6 L229.6,406.5 L230.1,408.4 L230.5,410.4 L231.0,412.3 L231.4,414.3 L231.9,416.2 L232.3,418.2 L232.7,420.1 L233.1,422.1 L233.5,424.1 L233.8,426.0 L234.2,428.0 L234.5,430.0 L234.9,432.0 L235.2,433.9 L235.6,435.9 L235.9,437.9 L236.3,439.9 L236.6,441.8 L236.9,443.8 L237.3,445.8 L237.6,447.8 L237.9,449.7 L238.3,451.7 L238.6,453.7 L238.9,455.6 L239.2,457.6 L239.5,459.6 L239.8,461.6 L240.1,463.5 L240.4,465.5 L240.7,467.5 L241.0,469.5 L241.3,471.4 L241.6,473.4 L241.9,475.4 L242.2,477.4 L242.4,479.4 L242.7,481.3 L243.0,483.3 L243.2,485.3 L243.5,487.3 L243.7,489.3 L244.0,491.2 L244.2,493.2 L244.5,495.2 L244.7,497.2 L244.9,499.2 L245.2,501.2 L245.4,503.1 L245.6,505.1 L245.8,507.1 L246.0,509.1 L246.3,511.1 L246.5,513.1 L246.7,515.1 L246.9,517.1 L247.1,519.0 L247.3,521.0 L247.5,523.0 L247.7,525.0 L247.9,527.0 L248.1,529.0 L248.3,531.0 L248.5,533.0 L248.7,535.0 L248.8,536.9 L249.0,538.9 L249.2,540.9 L249.4,542.9 L249.6,544.9 L249.8,546.9 L250.0,548.9 L250.2,550.9 L250.4,552.9 L250.6,554.9 L250.7,556.9 L250.9,558.8 L251.1,560.8 L251.3,562.8 L251.5,564.8 L251.7,566.8 L251.9,568.8 L252.1,570.8 L252.3,572.8 L252.5,574.8 L252.7,576.8 L252.9,578.8 L253.1,580.7 L253.3,582.7 L253.5,584.7 L253.7,586.7 L253.9,588.7 L254.2,590.7 L254.4,592.7 L254.6,594.7 L254.8,596.6 L255.0,598.6 L255.3,600.6 L255.5,602.6 L255.7,604.6 L256.0,606.6 L256.2,608.6 L256.4,610.5 L256.7,612.5 L256.9,614.5 L257.2,616.5 L257.4,618.5 L257.7,620.5 L257.9,622.4 L258.1,624.4 L258.4,626.4 L258.7,628.4 L258.9,630.4 L259.2,632.4 L259.4,634.3 L259.7,636.3 L259.9,638.3 L260.2,640.3 L260.4,642.3 L260.7,644.3 L261.0,646.2 L261.2,648.2 L261.5,650.2 L261.7,652.2 L262.0,654.2 L262.3,656.1 L262.5,658.1 L262.8,660.1 L263.0,662.1 L263.3,664.1 L263.6,666.0 L263.8,668.0 L264.1,670.0 L264.4,672.0 L264.6,674.0 L264.9,676.0 L265.1,677.9 L265.4,679.9 L265.7,681.9 L265.9,683.9 L266.2,685.9 L266.5,687.8 L266.7,689.8 L267.0,691.8 L267.3,693.8 L267.5,695.8 L267.8,697.7 L268.1,699.7 L268.3,701.7 L268.6,703.7 L268.8,705.7 L269.1,707.7 L269.4,709.6 L269.6,711.6 L269.9,713.6 L270.2,715.6 L270.4,717.6 L270.7,719.5 L271.0,721.5 L271.2,723.5 L271.5,725.5 L271.8,727.5 L272.0,729.4 L272.3,731.4 L272.6,733.4 L272.8,735.4 L273.1,737.4 L273.4,739.3 L273.6,741.3 L273.9,743.3 L274.2,745.3 L274.4,747.3 L274.7,749.3 L275.0,751.2 L275.2,753.2 L275.5,755.2 L275.8,757.2 L276.0,759.2 L276.3,761.1 L276.6,763.1 L276.8,765.1 L277.1,767.1 L277.4,769.1 L277.6,771.0 L277.9,773.0 L278.2,775.0 L278.4,777.0 L278.7,779.0 L279.0,780.9 L279.2,782.9 L279.5,784.9 L279.8,786.9 L280.0,788.9 L280.3,790.9 L280.6,792.8 L280.8,794.8 L281.1,796.8 L281.4,798.8 L281.6,800.8 L281.9,802.7 L282.2,804.7 L282.5,806.7 L282.7,808.7 L283.0,810.7 L283.3,812.6 L283.5,814.6 L283.8,816.6 L284.1,818.6 L284.3,820.6 L284.6,822.6 L284.9,824.5 L285.1,826.5 L285.4,828.5 L285.7,830.5 L285.9,832.5 L286.2,834.4 L286.5,836.4 L286.7,838.4 L287.0,840.4 L287.3,842.4 L287.6,844.4 L287.8,846.3 L288.1,848.3 L288.4,850.3 L288.6,852.3 L288.9,854.3 L289.2,856.2 L289.4,858.2 L289.7,860.2 L290.0,862.2 L290.2,864.2 L290.5,866.2 L290.8,868.1 L291.1,870.1 L291.3,872.1 L291.6,874.1 L291.9,876.1 L292.1,878.0 L292.4,880.0 L292.7,882.0 L293.0,884.0 L293.3,886.0 L293.5,887.9 L293.8,889.9 L294.1,891.9 L294.4,893.9 L294.7,895.9 L294.9,897.8 L295.2,899.8 L295.5,901.8 L295.8,903.8 L296.1,905.8 L296.4,907.7 L296.7,909.7 L297.0,911.7 L297.3,913.7 L297.6,915.6 L297.9,917.6 L298.2,919.6 L298.5,921.6 L298.8,923.5 L299.1,925.5 L299.4,927.5 L299.7,929.5 L300.1,931.4 L300.4,933.4 L300.7,935.4 L301.0,937.3 L301.3,939.3 L301.7,941.3 L302.0,943.2 L302.3,945.2 L302.7,947.2 L303.0,949.1 L303.4,951.1 L303.7,953.1 L304.1,955.0 L304.4,957.0 L304.8,959.0 L305.1,960.9 L305.5,962.9 L305.8,964.9 L306.2,966.8 L306.5,968.8 L306.9,970.8 L307.3,972.7 L307.6,974.7 L308.0,976.6 L308.4,978.6 L308.7,980.6 L309.1,982.5 L309.5,984.5 L309.8,986.5 L310.2,988.4 L310.6,990.4 L310.9,992.4 L311.3,994.3 L311.7,996.3 L312.0,998.2 L312.4,1000.2 L312.8,1002.2 L313.1,1004.2 L313.5,1006.1 L313.9,1008.1 L314.2,1010.1 L314.6,1012.0 L315.0,1014.0 L315.3,1016.0 L315.7,1017.9 L316.0,1019.9 L316.4,1021.9 L316.8,1023.9 L317.1,1025.8 L317.5,1027.8 L317.9,1029.8 L318.2,1031.7 L318.6,1033.7 L319.0,1035.7 L319.4,1037.7 L319.7,1039.6 L320.1,1041.6 L320.5,1043.6 L320.9,1045.5 L321.3,1047.5 L321.7,1049.4 L322.1,1051.4 L322.5,1053.4 L322.9,1055.3 L323.4,1057.3 L323.8,1059.2 L324.2,1061.2 L324.7,1063.1 L325.1,1065.0 L325.6,1067.0 L326.1,1068.9 L326.6,1070.8 L327.0,1072.8 L327.5,1074.7 L328.1,1076.6 L328.6,1078.5 L329.1,1080.4 L329.7,1082.3 L330.2,1084.2 L330.8,1086.1 L331.4,1088.0 L332.0,1089.9 L332.7,1091.7 L333.3,1093.6 L334.0,1095.5 L334.8,1097.3 L335.5,1099.1 L336.3,1101.0 L337.1,1102.8 L338.0,1104.6 L338.9,1106.4 L339.9,1108.2 L340.9,1109.9 L341.9,1111.7 L343.0,1113.5 L344.1,1115.2 L345.3,1116.9 L346.6,1118.6 L347.9,1120.3 L349.2,1121.9 L350.6,1123.5 L352.1,1124.9 L353.6,1126.2 L355.1,1127.4 L356.7,1128.4 L358.4,1129.1 L360.1,1129.6 L361.8,1129.8 L363.6,1129.7 L365.4,1129.4 L367.2,1128.8 L369.1,1127.9 L370.9,1126.9 L372.6,1125.8 L374.4,1124.5 L376.0,1123.2 L377.6,1121.9 L379.0,1120.5 L380.5,1119.1 L381.9,1117.6 L383.2,1116.1 L384.5,1114.6 L385.7,1113.1 L386.9,1111.5 L388.1,1109.9 L389.3,1108.3 L390.4,1106.7 L391.6,1105.0 L392.7,1103.4 L393.7,1101.7 L394.8,1100.0 L395.9,1098.3 L396.9,1096.6 L397.9,1094.8 L398.9,1093.1 L399.9,1091.4 L400.8,1089.6 L401.7,1087.8 L402.6,1086.0 L403.5,1084.2 L404.3,1082.4 L405.2,1080.6 L406.0,1078.8 L406.8,1077.0 L407.6,1075.2 L408.4,1073.3 L409.1,1071.5 L409.8,1069.6 L410.5,1067.8 L411.2,1065.9 L411.9,1064.0 L412.6,1062.2 L413.3,1060.3 L413.9,1058.4 L414.5,1056.5 L415.2,1054.6 L415.8,1052.7 L416.4,1050.8 L417.0,1048.9 L417.5,1047.0 L418.1,1045.1 L418.7,1043.1 L419.2,1041.2 L419.8,1039.3 L420.3,1037.4 L420.8,1035.4 L421.3,1033.5 L421.9,1031.6 L422.4,1029.6 L422.9,1027.7 L423.4,1025.7 L423.9,1023.8 L424.4,1021.9 L424.9,1019.9 L425.4,1018.0 L425.9,1016.0 L426.4,1014.1 L426.9,1012.2 L427.4,1010.2 L427.8,1008.3 L428.3,1006.3 L428.8,1004.4 L429.3,1002.4 L429.8,1000.5 L430.2,998.6 L430.7,996.6 L431.2,994.7 L431.6,992.7 L432.1,990.8 L432.6,988.8 L433.0,986.9 L433.5,984.9 L433.9,983.0 L434.4,981.0 L434.8,979.1 L435.3,977.1 L435.7,975.2 L436.2,973.2 L436.6,971.3 L437.1,969.3 L437.5,967.4 L437.9,965.4 L438.4,963.5 L438.8,961.5 L439.2,959.6 L439.7,957.6 L440.1,955.7 L440.5,953.7 L440.9,951.8 L441.3,949.8 L441.8,947.9 L442.2,945.9 L442.6,944.0 L443.0,942.0 L443.4,940.1 L443.8,938.1 L444.2,936.1 L444.6,934.2 L445.0,932.2 L445.5,930.3 L445.9,928.3 L446.3,926.4 L446.6,924.4 L447.0,922.4 L447.4,920.5 L447.8,918.5 L448.2,916.6 L448.6,914.6 L449.0,912.6 L449.4,910.7 L449.8,908.7 L450.1,906.8 L450.5,904.8 L450.9,902.8 L451.3,900.9 L451.7,898.9 L452.0,897.0 L452.4,895.0 L452.8,893.0 L453.1,891.1 L453.5,889.1 L453.9,887.1 L454.2,885.2 L454.6,883.2 L455.0,881.2 L455.3,879.3 L455.7,877.3 L456.0,875.3 L456.4,873.4 L456.8,871.4 L457.1,869.4 L457.5,867.5 L457.8,865.5 L458.2,863.5 L458.5,861.6 L458.9,859.6 L459.2,857.6 L459.6,855.7 L459.9,853.7 L460.2,851.7 L460.6,849.8 L460.9,847.8 L461.3,845.8 L461.6,843.9 L461.9,841.9 L462.3,839.9 L462.6,838.0 L462.9,836.0 L463.3,834.0 L463.6,832.0 L463.9,830.1 L464.2,828.1 L464.6,826.1 L464.9,824.2 L465.2,822.2 L465.5,820.2 L465.9,818.2 L466.2,816.3 L466.5,814.3 L466.8,812.3 L467.2,810.3 L467.5,808.4 L467.8,806.4 L468.1,804.4 L468.4,802.4 L468.7,800.5 L469.0,798.5 L469.4,796.5 L469.7,794.6 L470.0,792.6 L470.3,790.6 L470.6,788.6 L470.9,786.7 L471.2,784.7 L471.5,782.7 L471.8,780.7 L472.1,778.7 L472.4,776.8 L472.7,774.8 L473.0,772.8 L473.3,770.8 L473.6,768.9 L473.9,766.9 L474.2,764.9 L474.5,762.9 L474.8,761.0 L475.1,759.0 L475.4,757.0 L475.7,755.0 L476.0,753.1 L476.3,751.1 L476.6,749.1 L476.9,747.1 L477.2,745.1 L477.5,743.2 L477.8,741.2 L478.1,739.2 L478.4,737.2 L478.7,735.2 L479.0,733.3 L479.3,731.3 L479.5,729.3 L479.8,727.3 L480.1,725.4 L480.4,723.4 L480.7,721.4 L481.0,719.4 L481.3,717.4 L481.6,715.5 L481.9,713.5 L482.1,711.5 L482.4,709.5 L482.7,707.5 L483.0,705.6 L483.3,703.6 L483.6,701.6 L483.9,699.6 L484.1,697.6 L484.4,695.7 L484.7,693.7 L485.0,691.7 L485.3,689.7 L485.6,687.7 L485.8,685.8 L486.1,683.8 L486.4,681.8 L486.7,679.8 L487.0,677.8 L487.3,675.9 L487.5,673.9 L487.8,671.9 L488.1,669.9 L488.4,667.9 L488.7,666.0 L489.0,664.0 L489.2,662.0 L489.5,660.0 L489.8,658.1 L490.1,656.1 L490.4,654.1 L490.7,652.1 L490.9,650.1 L491.2,648.2 L491.5,646.2 L491.8,644.2 L492.1,642.2 L492.4,640.2 L492.7,638.3 L492.9,636.3 L493.2,634.3 L493.5,632.3 L493.8,630.3 L494.1,628.4 L494.4,626.4 L494.6,624.4 L494.9,622.4 L495.2,620.4 L495.5,618.5 L495.8,616.5 L496.1,614.5 L496.4,612.5 L496.7,610.5 L496.9,608.6 L497.2,606.6 L497.5,604.6 L497.8,602.6 L498.1,600.7 L498.4,598.7 L498.7,596.7 L499.0,594.7 L499.3,592.7 L499.6,590.8 L499.9,588.8 L500.1,586.8 L500.4,584.8 L500.7,582.8 L501.0,580.9 L501.3,578.9 L501.6,576.9 L501.9,574.9 L502.2,573.0 L502.5,571.0 L502.8,569.0 L503.1,567.0 L503.4,565.1 L503.7,563.1 L504.0,561.1 L504.3,559.1 L504.6,557.1 L504.9,555.2 L505.2,553.2 L505.5,551.2 L505.8,549.2 L506.1,547.3 L506.4,545.3 L506.7,543.3 L507.0,541.3 L507.3,539.4 L507.6,537.4 L507.9,535.4 L508.2,533.4 L508.5,531.5 L508.8,529.5 L509.1,527.5 L509.4,525.5 L509.7,523.6 L510.0,521.6 L510.3,519.6 L510.6,517.6 L510.9,515.7 L511.2,513.7 L511.5,511.7 L511.8,509.7 L512.1,507.7 L512.5,505.8 L512.8,503.8 L513.1,501.8 L513.4,499.9 L513.7,497.9 L514.0,495.9 L514.3,493.9 L514.6,492.0 L514.9,490.0 L515.2,488.0 L515.6,486.0 L515.9,484.1 L516.2,482.1 L516.5,480.1 L516.8,478.1 L517.1,476.2 L517.4,474.2 L517.7,472.2 L518.1,470.2 L518.4,468.3 L518.7,466.3 L519.0,464.3 L519.3,462.3 L519.6,460.4 L519.9,458.4 L520.3,456.4 L520.6,454.4 L520.9,452.5 L521.2,450.5 L521.5,448.5 L521.9,446.6 L522.2,444.6 L522.5,442.6 L522.8,440.6 L523.1,438.7 L523.5,436.7 L523.8,434.7 L524.1,432.7 L524.4,430.8 L524.7,428.8 L525.1,426.8 L525.4,424.8 L525.7,422.9 L526.0,420.9 L526.3,418.9 L526.7,417.0 L527.0,415.0 L527.3,413.0 L527.6,411.0 L528.0,409.1 L528.3,407.1 L528.6,405.1 L528.9,403.2 L529.3,401.2 L529.6,399.2 L529.9,397.2 L530.3,395.3 L530.6,393.3 L530.9,391.3 L531.2,389.3 L531.6,387.4 L531.9,385.4 L532.2,383.4 L532.6,381.5 L532.9,379.5 L533.2,377.5 L533.6,375.6 L533.9,373.6 L534.2,371.6 L534.6,369.6 L534.9,367.7 L535.3,365.7 L535.6,363.7 L535.9,361.8 L536.3,359.8 L536.6,357.8 L537.0,355.9 L537.3,353.9 L537.7,351.9 L538.0,349.9 L538.4,348.0 L538.7,346.0 L539.1,344.0 L539.4,342.1 L539.8,340.1 L540.2,338.1 L540.5,336.2 L540.9,334.2 L541.2,332.2 L541.6,330.3 L542.0,328.3 L542.3,326.4 L542.7,324.4 L543.1,322.4 L543.4,320.5 L543.8,318.5 L544.2,316.5 L544.6,314.6 L545.0,312.6 L545.3,310.6 L545.7,308.7 L546.1,306.7 L546.5,304.8 L546.9,302.8 L547.3,300.8 L547.7,298.9 L548.1,296.9 L548.5,295.0 L548.9,293.0 L549.3,291.0 L549.7,289.1 L550.1,287.1 L550.5,285.2 L550.9,283.2 L551.3,281.3 L551.8,279.3 L552.2,277.4 L552.6,275.4 L553.0,273.5 L553.5,271.5 L553.9,269.5 L554.3,267.6 L554.8,265.6 L555.2,263.7 L555.6,261.7 L556.1,259.8 L556.5,257.8 L557.0,255.9 L557.4,253.9 L557.9,252.0 L558.4,250.1 L558.8,248.1 L559.3,246.2 L559.8,244.2 L560.2,242.3 L560.7,240.3 L561.2,238.4 L561.7,236.4 L562.2,234.5 L562.7,232.6 L563.2,230.6 L563.7,228.7 L564.2,226.8 L564.7,224.8 L565.2,222.9 L565.8,221.0 L566.3,219.1 L566.8,217.1 L567.4,215.2 L567.9,213.3 L568.5,211.4 L569.1,209.5 L569.7,207.6 L570.3,205.7 L570.9,203.8 L571.5,201.9 L572.1,200.0 L572.7,198.1 L573.3,196.2 L574.0,194.3 L574.6,192.4 L575.3,190.5 L576.0,188.7 L576.7,186.8 L577.4,184.9 L578.1,183.1 L578.8,181.2 L579.5,179.3 L580.3,177.5 L581.0,175.7 L581.8,173.8 L582.6,172.0 L583.4,170.1 L584.2,168.3 L585.0,166.5 L585.8,164.7 L586.7,162.9 L587.6,161.1 L588.4,159.3 L589.3,157.5 L590.2,155.7 L591.2,153.9 L592.1,152.1 L593.0,150.3 L594.0,148.5 L595.0,146.7 L596.1,145.0 L597.2,143.3 L598.3,141.7 L599.5,140.1 L600.8,138.6 L602.2,137.2 L603.6,135.8 L605.2,134.5 L606.8,133.4 L608.5,132.3 L610.3,131.4 L612.1,130.6 L614.0,129.9 L615.9,129.3 L617.8,129.0 L619.8,128.8 L621.7,128.7 L623.7,128.9 L625.6,129.2 L627.5,129.8 L629.4,130.5 L631.2,131.4 L633.0,132.4 L634.9,133.4 L636.7,134.5 L638.5,135.5 L640.2,136.6 L641.9,137.7 L643.5,138.9 L645.0,140.2 L646.4,141.6 L647.7,143.0 L649.0,144.5 L650.2,146.1 L651.3,147.7 L652.4,149.3 L653.5,151.0 L654.6,152.7 L655.6,154.4 L656.6,156.1 L657.7,157.8 L658.7,159.5 L659.7,161.3 L660.8,163.0 L661.8,164.7 L662.8,166.4 L663.8,168.1 L664.9,169.9 L665.9,171.6 L666.9,173.3 L667.9,175.1 L668.9,176.8 L669.9,178.5 L670.9,180.3 L671.8,182.0 L672.8,183.8 L673.7,185.6 L674.7,187.3 L675.6,189.1 L676.5,190.9 L677.4,192.7 L678.3,194.5 L679.2,196.3 L680.0,198.1 L680.9,199.9 L681.7,201.7 L682.6,203.5 L683.4,205.3 L684.2,207.1 L685.0,208.9 L685.8,210.8 L686.6,212.6 L687.4,214.4 L688.2,216.3 L688.9,218.1 L689.7,220.0 L690.5,221.8 L691.2,223.7 L691.9,225.5 L692.7,227.4 L693.4,229.3 L694.1,231.1 L694.8,233.0 L695.5,234.9 L696.2,236.7 L696.9,238.6 L697.6,240.5 L698.3,242.3 L699.0,244.2 L699.7,246.1 L700.4,248.0 L701.1,249.9 L701.7,251.8 L702.4,253.6 L703.1,255.5 L703.7,257.4 L704.4,259.3 L705.1,261.2 L705.7,263.1 L706.4,265.0 L707.0,266.9 L707.7,268.8 L708.4,270.6 L709.0,272.5 L709.7,274.4 L710.3,276.3 L711.0,278.2 L711.7,280.1 L712.3,282.0 L713.0,283.9 L713.6,285.8 L714.3,287.6 L715.0,289.5 L715.6,291.4 L716.3,293.3 L717.0,295.2 L717.6,297.1 L718.3,298.9 L719.0,300.8 L719.7,302.7 L720.3,304.6 L721.0,306.5 L721.7,308.3 L722.4,310.2 L723.0,312.1 L723.7,314.0 L724.4,315.8 L725.1,317.7 L725.8,319.6 L726.5,321.5 L727.2,323.3 L727.8,325.2 L728.5,327.1 L729.2,329.0 L729.9,330.8 L730.6,332.7 L731.3,334.6 L732.0,336.4 L732.7,338.3 L733.4,340.2 L734.1,342.1 L734.8,343.9 L735.5,345.8 L736.2,347.7 L736.9,349.5 L737.6,351.4 L738.3,353.3 L739.0,355.1 L739.7,357.0 L740.4,358.9 L741.1,360.7 L741.8,362.6 L742.5,364.5 L743.2,366.3 L743.9,368.2 L744.7,370.1 L745.4,371.9 L746.1,373.8 L746.8,375.6 L747.5,377.5 L748.2,379.4 L748.9,381.2 L749.7,383.1 L750.4,385.0 L751.1,386.8 L751.8,388.7 L752.5,390.6 L753.2,392.4 L754.0,394.3 L754.7,396.1 L755.4,398.0 L756.1,399.9 L756.9,401.7 L757.6,403.6 L758.3,405.5 L759.0,407.3 L759.7,409.2 L760.5,411.0 L761.2,412.9 L761.9,414.8 L762.7,416.6 L763.4,418.5 L764.1,420.4 L764.8,422.2 L765.6,424.1 L766.3,426.0 L767.0,427.8 L767.8,429.7 L768.5,431.5 L769.2,433.4 L769.9,435.3 L770.7,437.1 L771.4,439.0 L772.1,440.9 L772.9,442.7 L773.6,444.6 L774.4,446.5 L775.1,448.3 L775.8,450.2 L776.6,452.0 L777.3,453.9 L778.1,455.8 L778.8,457.6 L779.6,459.5 L780.3,461.4 L781.1,463.2 L781.8,465.1 L782.6,466.9 L783.3,468.8 L784.1,470.6 L784.9,472.5 L785.6,474.3 L786.4,476.2 L787.2,478.0 L788.0,479.9 L788.7,481.7 L789.5,483.6 L790.3,485.4 L791.1,487.2 L791.9,489.1 L792.7,490.9 L793.5,492.7 L794.3,494.6 L795.1,496.4 L795.9,498.2 L796.8,500.1 L797.6,501.9 L798.4,503.7 L799.2,505.5 L800.1,507.3 L800.9,509.1 L801.8,511.0 L802.6,512.8 L803.5,514.6 L804.3,516.4 L805.2,518.2 L806.1,520.0 L807.0,521.7 L807.8,523.5 L808.7,525.3 L809.6,527.1 L810.5,528.9 L811.4,530.7 L812.4,532.4 L813.3,534.2 L814.2,536.0 L815.1,537.7 L816.1,539.5 L817.0,541.2 L818.0,543.0 L818.9,544.7 L819.9,546.5 L820.9,548.2 L821.9,549.9 L822.9,551.7 L823.9,553.4 L824.9,555.1 L825.9,556.8 L826.9,558.5 L827.9,560.2 L829.0,561.9 L830.0,563.6 L831.1,565.3 L832.1,567.0 L833.2,568.7 L834.3,570.4 L835.4,572.0 L836.5,573.7 L837.6,575.3 L838.7,577.0 L839.8,578.7 L840.9,580.3 L842.1,581.9 L843.2,583.6 L844.4,585.2 L845.6,586.8 L846.7,588.4 L847.9,590.0 L849.1,591.6 L850.3,593.2 L851.5,594.8 L852.8,596.4 L854.0,598.0 L855.3,599.6 L856.5,601.1 L857.8,602.7 L859.1,604.3 L860.4,605.8 L861.7,607.3 L863.0,608.9 L864.3,610.4 L865.7,611.9 L867.0,613.4 L868.4,614.9 L869.7,616.4 L871.1,617.9 L872.5,619.4 L873.9,620.8 L875.3,622.3 L876.7,623.7 L878.1,625.1 L879.5,626.5 L880.9,627.9 L882.4,629.3 L883.8,630.6 L885.2,632.0 L886.7,633.3 L888.1,634.6 L889.6,635.9 L891.1,637.1 L892.6,638.4 L894.2,639.6 L895.8,640.7 L897.4,641.8 L899.1,642.9 L900.8,644.0 L902.5,645.0 L904.3,645.9 L906.1,646.9 L907.9,647.8 L909.7,648.6 L911.6,649.4 L913.5,650.2 L915.4,650.9 L917.3,651.5 L919.3,652.2 L921.2,652.8 L923.2,653.3 L925.1,653.8 L927.1,654.3 L929.0,654.7 L931.0,655.1 L933.0,655.4 L935.0,655.7 L936.9,656.0 L938.9,656.2 L940.9,656.4 L942.9,656.6 L944.9,656.7 L946.8,656.8 L948.8,656.9 L950.8,656.9 L952.8,656.9 L954.8,656.9 L956.8,656.9 L958.8,656.8 L960.8,656.7 L962.7,656.6 L964.7,656.4 L966.7,656.3 L968.7,656.1 L970.7,655.9 L972.7,655.7 L974.6,655.5 L976.6,655.2 L978.6,655.0 L980.6,654.7 L982.5,654.4 L984.5,654.1 L986.5,653.8 L988.4,653.4 L990.4,653.1 L992.4,652.7 L994.3,652.4 L996.3,652.0 L998.2,651.6 L1000.2,651.2 L1002.2,650.8 L1004.1,650.4 L1006.1,650.0 L1008.0,649.6 L1010.0,649.2 L1011.9,648.8 L1013.9,648.4 L1015.9,647.9 L1017.8,647.5 L1019.8,647.1 L1021.7,646.7 L1023.7,646.2 L1025.6,645.8 L1027.6,645.4 L1029.6,645.0 L1031.5,644.6 L1033.5,644.2 L1035.4,643.8 L1037.4,643.4 L1039.4,643.0 L1041.3,642.6 L1043.3,642.2 L1045.3,641.8 L1047.2,641.4 L1049.2,641.1 L1051.2,640.7 L1053.1,640.3 L1055.1,640.0 L1057.1,639.6 L1059.0,639.3 L1061.0,639.0 L1063.0,638.6 L1065.0,638.3 L1066.9,638.0 L1068.9,637.6 L1070.9,637.3 L1072.9,637.0 L1074.8,636.7 L1076.8,636.4 L1078.8,636.1 L1080.8,635.8 L1082.8,635.5 L1084.7,635.2 L1086.7,634.9 L1088.7,634.6 L1090.7,634.3 L1092.7,634.1 L1094.6,633.8 L1096.6,633.5 L1098.6,633.3 L1100.6,633.0 L1102.6,632.8 L1104.6,632.5 L1106.6,632.3 L1108.5,632.0 L1110.5,631.8 L1112.5,631.6 L1114.5,631.3 L1116.5,631.1 L1118.5,630.9 L1120.5,630.7 L1122.4,630.4 L1124.4,630.2 L1126.4,630.0 L1128.4,629.8 L1130.4,629.6 L1132.4,629.4 L1134.4,629.2 L1136.4,629.0 L1138.3,628.8 L1140.3,628.7 L1142.3,628.5 L1144.3,628.3 L1146.3,628.1 L1148.3,628.0 L1150.3,627.8 L1152.3,627.6 L1154.3,627.5 L1156.3,627.3 L1158.3,627.1 L1160.2,627.0 L1162.2,626.8 L1164.2,626.7 L1166.2,626.6 L1168.2,626.4 L1170.2,626.3 L1172.2,626.1 L1174.2,626.0 L1176.2,625.9 L1178.2,625.8 L1180.2,625.6 L1182.2,625.5 L1184.2,625.4 L1186.2,625.3 L1188.1,625.2 L1190.1,625.1 L1192.1,625.0 L1194.1,624.9 L1196.1,624.8 L1198.1,624.7 L1200.1,624.6 L1202.1,624.5 L1204.1,624.4 L1206.1,624.3 L1208.1,624.2 L1210.1,624.1 L1212.1,624.0 L1214.1,624.0 L1216.1,623.9 L1218.1,623.8 L1220.1,623.7 L1222.1,623.7 L1224.1,623.6 L1226.1,623.5 L1228.1,623.5 L1230.1,623.4 L1232.1,623.3 L1234.1,623.3 L1236.1,623.2 L1238.1,623.2 L1240.1,623.1 L1242.0,623.1 L1244.0,623.0 L1246.0,623.0 L1248.0,622.9 L1250.0,622.9 L1252.0,622.8 L1254.0,622.8 L1256.0,622.8 L1258.0,622.7 L1260.0,622.7 L1262.0,622.7 L1264.0,622.6 L1266.0,622.6 L1268.0,622.6 L1270.0,622.5 L1272.0,622.5 L1274.0,622.5 L1276.0,622.5 L1278.0,622.5 L1280.0,622.4 L1282.0,622.4 L1284.0,622.4 L1286.0,622.4 L1288.0,622.4 L1290.0,622.4 L1292.0,622.4 L1294.0,622.3 L1296.0,622.3 L1298.0,622.3 L1300.0,622.3 L1302.0,622.3 L1304.0,622.3 L1306.0,622.3 L1308.0,622.3 L1310.0,622.3 L1312.0,622.3 L1314.0,622.3 L1316.0,622.3 L1318.0,622.3 L1320.0,622.3 L1322.0,622.3 L1324.0,622.3 L1326.0,622.3 L1328.0,622.3 L1330.0,622.3 L1332.0,622.3 L1334.0,622.3 L1336.0,622.3 L1338.0,622.3 L1340.0,622.3 L1342.0,622.4 L1344.0,622.4 L1346.0,622.4 L1348.0,622.4 L1350.0,622.4 L1352.0,622.4 L1354.0,622.4 L1356.0,622.4 L1358.0,622.4 L1360.0,622.5 L1362.0,622.5 L1364.0,622.5 L1366.0,622.5 L1368.0,622.5 L1370.0,622.5 L1372.0,622.5 L1374.0,622.5 L1376.0,622.5 L1378.0,622.6 L1380.0,622.6 L1382.0,622.6 L1384.0,622.6 L1386.0,622.6 L1388.0,622.6 L1390.0,622.6 L1392.0,622.6 L1394.0,622.7 L1396.0,622.7 L1398.0,622.7 L1400.0,622.7 L1402.0,622.7 L1404.0,622.7 L1406.0,622.7 L1408.0,622.7 L1410.0,622.7 L1412.0,622.7 L1414.0,622.7 L1416.0,622.7 L1418.0,622.7 L1420.0,622.7 L1422.0,622.8 L1424.0,622.8 L1426.0,622.8 L1428.0,622.8 L1430.0,622.8 L1432.0,622.8 L1434.0,622.8 L1436.0,622.8 L1438.0,622.8" stroke="#000"/>
<path d="M222.2,600.8 L224.0,601.3 L225.8,601.9 L227.7,602.5 L229.6,603.1 L231.4,603.7 L233.3,604.3 L235.2,604.9 L237.1,605.5 L238.9,606.1 L240.8,606.7 L242.7,607.3 L244.6,607.9 L246.5,608.4 L248.4,609.0 L250.4,609.5 L252.3,610.1 L254.2,610.6 L256.1,611.1 L258.1,611.6 L260.0,612.1 L262.0,612.6 L263.9,613.0 L265.9,613.5 L267.8,614.0 L269.8,614.4 L271.7,614.8 L273.7,615.2 L275.7,615.6 L277.6,616.0 L279.6,616.4 L281.6,616.8 L283.6,617.1 L285.5,617.5 L287.5,617.8 L289.5,618.2 L291.5,618.5 L293.4,618.8 L295.4,619.1 L297.4,619.4 L299.4,619.7 L301.4,620.0 L303.3,620.3 L305.3,620.5 L307.3,620.8 L309.3,621.0 L311.3,621.2 L313.2,621.5 L315.2,621.7 L317.2,621.9 L319.2,622.1 L321.2,622.3 L323.2,622.5 L325.2,622.6 L327.1,622.8 L329.1,623.0 L331.1,623.1 L333.1,623.3 L335.1,623.4 L337.1,623.5 L339.1,623.6 L341.1,623.8 L343.1,623.9 L345.1,624.0 L347.0,624.1 L349.0,624.1 L351.0,624.2 L353.0,624.3 L355.0,624.4 L357.0,624.4 L359.0,624.5 L361.0,624.5 L363.0,624.6 L365.0,624.6 L367.0,624.6 L369.0,624.6 L371.0,624.6 L373.0,624.7 L375.0,624.7 L377.0,624.7 L379.0,624.7 L381.0,624.6 L383.0,624.6 L385.0,624.6 L387.0,624.6 L389.0,624.5 L390.9,624.5 L392.9,624.5 L394.9,624.4 L396.9,624.3 L398.9,624.3 L400.9,624.2 L402.9,624.2 L404.9,624.1 L406.9,624.0 L408.9,623.9 L410.9,623.9 L412.9,623.8 L414.9,623.7 L416.9,623.6 L418.9,623.5 L420.9,623.4 L422.9,623.3 L424.9,623.2 L426.9,623.1 L428.9,622.9 L430.9,622.8 L432.9,622.7 L434.9,622.6 L436.9,622.4 L438.9,622.3 L440.9,622.2 L442.9,622.0 L444.9,621.9 L446.9,621.8 L448.9,621.6 L450.9,621.5 L452.9,621.3 L454.9,621.2 L456.9,621.0 L458.9,620.9 L460.9,620.7 L462.9,620.6 L464.9,620.4 L466.9,620.3 L468.9,620.1 L470.9,619.9 L472.9,619.8 L474.9,619.6 L476.9,619.4 L478.9,619.3 L480.9,619.1 L482.8,619.0 L484.8,618.8 L486.8,618.6 L488.8,618.5 L490.8,618.3 L492.8,618.1 L494.8,618.0 L496.8,617.8 L498.8,617.6 L500.8,617.5 L502.8,617.3 L504.8,617.1 L506.8,617.0 L508.8,616.8 L510.8,616.7 L512.8,616.5 L514.8,616.3 L516.7,616.2 L518.7,616.0 L520.7,615.9 L522.7,615.7 L524.7,615.6 L526.7,615.4 L528.7,615.3 L530.7,615.1 L532.7,615.0 L534.7,614.9 L536.7,614.7 L538.7,614.6 L540.7,614.5 L542.7,614.4 L544.6,614.2 L546.6,614.1 L548.6,614.0 L550.6,613.9 L552.6,613.8 L554.6,613.7 L556.6,613.6 L558.6,613.5 L560.6,613.4 L562.6,613.3 L564.6,613.2 L566.6,613.1 L568.6,613.1 L570.6,613.0 L572.6,612.9 L574.6,612.8 L576.6,612.8 L578.5,612.7 L580.5,612.7 L582.5,612.6 L584.5,612.6 L586.5,612.5 L588.5,612.5 L590.5,612.5 L592.5,612.4 L594.5,612.4 L596.5,612.4 L598.5,612.3 L600.5,612.3 L602.5,612.3 L604.5,612.3 L606.5,612.3 L608.5,612.3 L610.5,612.3 L612.5,612.3 L614.5,612.3 L616.5,612.3 L618.5,612.3 L620.5,612.3 L622.5,612.3 L624.5,612.3 L626.4,612.3 L628.4,612.4 L630.4,612.4 L632.4,612.4 L634.4,612.4 L636.4,612.5 L638.4,612.5 L640.4,612.5 L642.4,612.6 L644.4,612.6 L646.4,612.6 L648.4,612.7 L650.4,612.7 L652.4,612.8 L654.4,612.8 L656.4,612.9 L658.4,612.9 L660.4,613.0 L662.4,613.0 L664.4,613.1 L666.4,613.1 L668.4,613.2 L670.4,613.3 L672.4,613.3 L674.4,613.4 L676.4,613.5 L678.4,613.5 L680.4,613.6 L682.4,613.7 L684.4,613.7 L686.4,613.8 L688.4,613.9 L690.4,613.9 L692.4,614.0 L694.4,614.1 L696.4,614.2 L698.4,614.2 L700.4,614.3 L702.4,614.4 L704.4,614.5 L706.4,614.6 L708.4,614.6 L710.4,614.7 L712.4,614.8 L714.4,614.9 L716.4,615.0 L718.4,615.0 L720.4,615.1 L722.4,615.2 L724.4,615.3 L726.4,615.4 L728.4,615.5 L730.4,615.5 L732.4,615.6 L734.4,615.7 L736.4,615.8 L738.4,615.9 L740.4,615.9 L742.4,616.0 L744.4,616.1 L746.4,616.2 L748.4,616.3 L750.3,616.3 L752.3,616.4 L754.3,616.5 L756.3,616.6 L758.3,616.7 L760.3,616.7 L762.3,616.8 L764.3,616.9 L766.3,617.0 L768.3,617.0 L770.3,617.1 L772.3,617.2 L774.3,617.2 L776.3,617.3 L778.3,617.4 L780.3,617.5 L782.3,617.5 L784.3,617.6 L786.3,617.7 L788.3,617.7 L790.3,617.8 L792.3,617.8 L794.3,617.9 L796.3,618.0 L798.3,618.0 L800.3,618.1 L802.3,618.2 L804.3,618.2 L806.3,618.3 L808.3,618.3 L810.3,618.4 L812.3,618.5 L814.3,618.5 L816.3,618.6 L818.3,618.6 L820.3,618.7 L822.3,618.7 L824.3,618.8 L826.3,618.9 L828.3,618.9 L830.3,619.0 L832.3,619.0 L834.3,619.1 L836.3,619.1 L838.3,619.2 L840.3,619.2 L842.3,619.3 L844.3,619.3 L846.3,619.4 L848.3,619.4 L850.3,619.5 L852.3,619.5 L854.3,619.5 L856.3,619.6 L858.3,619.6 L860.3,619.7 L862.3,619.7 L864.3,619.8 L866.3,619.8 L868.3,619.8 L870.3,619.9 L872.3,619.9 L874.3,620.0 L876.3,620.0 L878.3,620.0 L880.3,620.1 L882.3,620.1 L884.3,620.2 L886.3,620.2 L888.3,620.2 L890.3,620.3 L892.3,620.3 L894.3,620.3 L896.3,620.4 L898.3,620.4 L900.3,620.4 L902.3,620.5 L904.3,620.5 L906.3,620.5 L908.3,620.6 L910.3,620.6 L912.2,620.6 L914.2,620.7 L916.2,620.7 L918.2,620.7 L920.2,620.7 L922.2,620.8 L924.2,620.8 L926.2,620.8 L928.2,620.9 L930.2,620.9 L932.2,620.9 L934.2,620.9 L936.2,621.0 L938.2,621.0 L940.2,621.0 L942.2,621.0 L944.2,621.0 L946.2,621.1 L948.2,621.1 L950.2,621.1 L952.2,621.1 L954.2,621.2 L956.2,621.2 L958.2,621.2 L960.2,621.2 L962.2,621.2 L964.2,621.3 L966.2,621.3 L968.2,621.3 L970.2,621.3 L972.2,621.3 L974.2,621.3 L976.2,621.4 L978.2,621.4 L980.2,621.4 L982.2,621.4 L984.2,621.4 L986.2,621.4 L988.2,621.5 L990.2,621.5 L992.2,621.5 L994.2,621.5 L996.2,621.5 L998.2,621.5 L1000.2,621.5 L1002.2,621.5 L1004.2,621.6 L1006.2,621.6 L1008.2,621.6 L1010.2,621.6 L1012.2,621.6 L1014.2,621.6 L1016.2,621.6 L1018.2,621.6 L1020.2,621.6 L1022.2,621.6 L1024.2,621.7 L1026.2,621.7 L1028.2,621.7 L1030.2,621.7 L1032.2,621.7 L1034.2,621.7 L1036.2,621.7 L1038.2,621.7 L1040.2,621.7 L1042.2,621.7 L1044.2,621.7 L1046.1,621.7 L1048.1,621.7 L1050.1,621.7 L1052.1,621.7 L1054.1,621.7 L1056.1,621.7 L1058.1,621.7 L1060.1,621.8 L1062.1,621.8 L1064.1,621.8 L1066.1,621.8 L1068.1,621.8 L1070.1,621.8 L1072.1,621.8 L1074.1,621.8 L1076.1,621.8 L1078.1,621.8 L1080.1,621.8 L1082.1,621.8 L1084.1,621.8 L1086.1,621.8 L1088.1,621.8 L1090.1,621.8 L1092.1,621.8 L1094.1,621.8 L1096.1,621.8 L1098.1,621.8 L1100.1,621.8 L1102.1,621.8 L1104.1,621.8 L1106.1,621.8 L1108.1,621.8 L1110.1,621.8 L1112.1,621.8 L1114.1,621.8 L1116.1,621.8 L1118.1,621.8 L1120.1,621.8 L1122.1,621.8 L1124.1,621.8 L1126.1,621.7 L1128.1,621.7 L1130.1,621.7 L1132.1,621.7 L1134.1,621.7 L1136.1,621.7 L1138.1,621.7 L1140.1,621.7 L1142.1,621.7 L1144.1,621.7 L1146.1,621.7 L1148.1,621.7 L1150.1,621.7 L1152.1,621.7 L1154.1,621.7 L1156.1,621.7 L1158.1,621.7 L1160.1,621.7 L1162.1,621.7 L1164.1,621.7 L1166.1,621.7 L1168.1,621.7 L1170.1,621.7 L1172.1,621.6 L1174.1,621.6 L1176.1,621.6 L1178.1,621.6 L1180.1,621.6 L1182.1,621.6 L1184.1,621.6 L1186.1,621.6 L1188.1,621.6 L1190.1,621.6 L1192.1,621.6 L1194.1,621.6 L1196.1,621.6 L1198.1,621.6 L1200.0,621.6 L1202.0,621.6 L1204.0,621.6 L1206.0,621.5 L1208.0,621.5 L1210.0,621.5 L1212.0,621.5 L1214.0,621.5 L1216.0,621.5 L1218.0,621.5 L1220.0,621.5 L1222.0,621.5 L1224.0,621.5 L1226.0,621.5 L1228.0,621.5 L1230.0,621.5 L1232.0,621.5 L1234.0,621.5 L1236.0,621.5 L1238.0,621.5 L1240.0,621.4 L1242.0,621.4 L1244.0,621.4 L1246.0,621.4 L1248.0,621.4 L1250.0,621.4 L1252.0,621.4 L1254.0,621.4 L1256.0,621.4 L1258.0,621.4 L1260.0,621.4 L1262.0,621.4 L1264.0,621.4 L1266.0,621.4 L1268.0,621.4 L1270.0,621.4 L1272.0,621.4 L1274.0,621.4 L1276.0,621.4 L1278.0,621.3 L1280.0,621.3 L1282.0,621.3 L1284.0,621.3 L1286.0,621.3 L1288.0,621.3 L1290.0,621.3 L1292.0,621.3 L1294.0,621.3 L1296.0,621.3 L1298.0,621.3 L1300.0,621.3 L1302.0,621.3 L1304.0,621.3 L1306.0,621.3 L1308.0,621.3 L1310.0,621.3 L1312.0,621.3 L1314.0,621.3 L1316.0,621.3 L1318.0,621.3 L1320.0,621.3 L1322.0,621.3 L1324.0,621.3 L1326.0,621.3 L1328.0,621.3 L1330.0,621.3 L1332.0,621.3 L1334.0,621.3 L1336.0,621.3 L1338.0,621.3 L1340.0,621.3 L1342.0,621.3 L1344.0,621.3 L1346.0,621.3 L1348.0,621.3 L1350.0,621.3 L1352.0,621.3 L1354.0,621.3 L1356.0,621.3 L1358.0,621.3 L1360.0,621.3 L1362.0,621.3 L1364.0,621.3 L1366.0,621.3 L1368.0,621.3 L1370.0,621.3 L1372.0,621.3 L1374.0,621.3 L1376.0,621.3 L1378.0,621.3 L1380.0,621.3 L1382.0,621.3 L1384.0,621.3 L1386.0,621.3 L1388.0,621.3 L1390.0,621.3 L1392.0,621.4 L1394.0,621.4 L1396.0,621.4 L1398.0,621.4 L1400.0,621.4 L1402.0,621.4 L1404.0,621.4 L1406.0,621.4 L1408.0,621.4 L1410.0,621.4 L1412.0,621.4 L1414.0,621.4 L1416.0,621.5 L1418.0,621.5 L1420.0,621.5 L1422.0,621.5 L1424.0,621.5 L1426.0,621.5 L1428.0,621.5 L1430.0,621.5 L1432.0,621.5 L1434.0,621.6 L1436.0,621.6 L1438.0,621.6" stroke="#f00"/>
</g></g>
<g class="s" font-size="49" fill="#000">
<text x="196" y="134.6" text-anchor="end">30</text>
<text x="196" y="301.8" text-anchor="end">20</text>
<text x="196" y="468.9" text-anchor="end">10</text>
<text x="196" y="636.1" text-anchor="end">0</text>
<text x="196" y="803.3" text-anchor="end">-10</text>
<text x="196" y="970.4" text-anchor="end">-20</text>
<text x="196" y="1137.6" text-anchor="end">-30</text>
<text x="196" y="1304.8" text-anchor="end">-40</text>
<text x="1464.5" y="1721.2">0</text>
<text x="1464.5" y="1639.0">2</text>
<text x="1464.5" y="1556.8">4</text>
<text x="1464.5" y="1474.6">6</text>
<text x="1464.5" y="1392.4">8</text>
<text x="1464.5" y="1310.2">10</text>
<text x="259.7" y="1769.4" text-anchor="middle">300</text>
<text x="495.1" y="1769.4" text-anchor="middle">350</text>
<text x="730.5" y="1769.4" text-anchor="middle">400</text>
<text x="965.9" y="1769.4" text-anchor="middle">450</text>
<text x="1201.3" y="1769.4" text-anchor="middle">500</text>
<text x="1436.7" y="1769.4" text-anchor="middle">550</text>
</g>
<text class="s" x="830.5" y="1865" font-size="60.5" text-anchor="middle">Wavelength (nm)</text>
<g transform="translate(78.0,960.0) rotate(-90)" fill="#000"><text x="2.62" y="2.5" font-family="&quot;Liberation Serif&quot;,serif" font-style="normal" font-size="57">[</text><text transform="translate(41.10,0) scale(1.120,1) translate(-41.10,0)" x="26.38" y="0.0" font-family="&quot;Liberation Serif&quot;,serif" font-style="italic" font-size="57">θ</text><text x="49.79" y="2.5" font-family="&quot;Liberation Serif&quot;,serif" font-style="normal" font-size="57">]</text><text x="66.90" y="6.0" font-family="&quot;Liberation Serif&quot;,serif" font-style="normal" font-size="57">×</text><text x="96.96" y="0.0" font-family="&quot;Liberation Serif&quot;,serif" font-style="normal" font-size="57">1</text><text x="124.95" y="0.0" font-family="&quot;Liberation Serif&quot;,serif" font-style="normal" font-size="57">0</text><text x="151.05" y="-33.0" font-family="&quot;Liberation Serif&quot;,serif" font-style="normal" font-size="34">−</text><text x="168.90" y="-33.0" font-family="&quot;Liberation Serif&quot;,serif" font-style="normal" font-size="34">3</text><text x="186.48" y="0.0" font-family="&quot;Liberation Serif&quot;,serif" font-style="normal" font-size="57">(</text><text x="203.64" y="0.0" font-family="&quot;Liberation Sans&quot;,sans-serif" font-style="normal" font-size="60">d</text><text x="238.02" y="0.0" font-family="&quot;Liberation Sans&quot;,sans-serif" font-style="normal" font-size="60">e</text><text x="270.64" y="0.0" font-family="&quot;Liberation Sans&quot;,sans-serif" font-style="normal" font-size="60">g</text><text x="321.42" y="0.0" font-family="&quot;Liberation Sans&quot;,sans-serif" font-style="normal" font-size="60">c</text><text x="350.60" y="0.0" font-family="&quot;Liberation Sans&quot;,sans-serif" font-style="normal" font-size="60">m</text><text x="399.21" y="-33.0" font-family="&quot;Liberation Sans&quot;,sans-serif" font-style="normal" font-size="37">2</text><text x="435.29" y="0.0" font-family="&quot;Liberation Sans&quot;,sans-serif" font-style="normal" font-size="60">d</text><text x="469.50" y="0.0" font-family="&quot;Liberation Sans&quot;,sans-serif" font-style="normal" font-size="60">m</text><text x="518.87" y="0.0" font-family="&quot;Liberation Sans&quot;,sans-serif" font-style="normal" font-size="60">o</text><text x="552.87" y="0.0" font-family="&quot;Liberation Sans&quot;,sans-serif" font-style="normal" font-size="60">l</text><text x="565.94" y="-33.0" font-family="&quot;Liberation Sans&quot;,sans-serif" font-style="normal" font-size="37">-</text><text x="574.56" y="-33.0" font-family="&quot;Liberation Sans&quot;,sans-serif" font-style="normal" font-size="37">1</text><text x="596.94" y="0.0" font-family="&quot;Liberation Serif&quot;,serif" font-style="normal" font-size="57">)</text></g>
<g transform="translate(1586.3,1720.0) rotate(-90)" fill="#000"><text x="13.29" y="0.0" font-family="&quot;Liberation Serif&quot;,serif" font-style="italic" font-size="57">ε</text><text x="45.70" y="6.0" font-family="&quot;Liberation Serif&quot;,serif" font-style="normal" font-size="57">×</text><text x="75.96" y="0.0" font-family="&quot;Liberation Serif&quot;,serif" font-style="normal" font-size="57">1</text><text x="103.65" y="0.0" font-family="&quot;Liberation Serif&quot;,serif" font-style="normal" font-size="57">0</text><text x="130.05" y="-33.0" font-family="&quot;Liberation Serif&quot;,serif" font-style="normal" font-size="34">−</text><text x="146.90" y="-33.0" font-family="&quot;Liberation Serif&quot;,serif" font-style="normal" font-size="34">3</text><text x="165.38" y="0.0" font-family="&quot;Liberation Serif&quot;,serif" font-style="normal" font-size="57">(</text><text x="183.67" y="0.0" font-family="&quot;Liberation Sans&quot;,sans-serif" font-style="normal" font-size="60">c</text><text x="212.40" y="0.0" font-family="&quot;Liberation Sans&quot;,sans-serif" font-style="normal" font-size="60">m</text><text x="263.04" y="-33.5" font-family="&quot;Liberation Sans&quot;,sans-serif" font-style="normal" font-size="37">-</text><text x="271.51" y="-33.5" font-family="&quot;Liberation Sans&quot;,sans-serif" font-style="normal" font-size="37">1</text><text x="293.41" y="0.0" font-family="&quot;Liberation Sans&quot;,sans-serif" font-style="normal" font-size="60">M</text><text x="343.94" y="-33.5" font-family="&quot;Liberation Sans&quot;,sans-serif" font-style="normal" font-size="37">-</text><text x="352.61" y="-33.5" font-family="&quot;Liberation Sans&quot;,sans-serif" font-style="normal" font-size="37">1</text><text x="376.69" y="0.0" font-family="&quot;Liberation Sans&quot;,sans-serif" font-style="normal" font-size="60">)</text></g>
<rect x="892.5" y="93.5" width="499" height="146" fill="#fff" stroke="#000" stroke-width="3"/>
<rect x="906" y="130" width="135" height="5" fill="#000"/>
<rect x="906" y="203" width="135" height="5" fill="#f00"/>
<text class="s" x="1056" y="151.5" font-size="61.5">PPAA-Val</text>
<text class="s" x="1056" y="225" font-size="61.5">PPAA-Val-H</text>
</svg></body></html>
